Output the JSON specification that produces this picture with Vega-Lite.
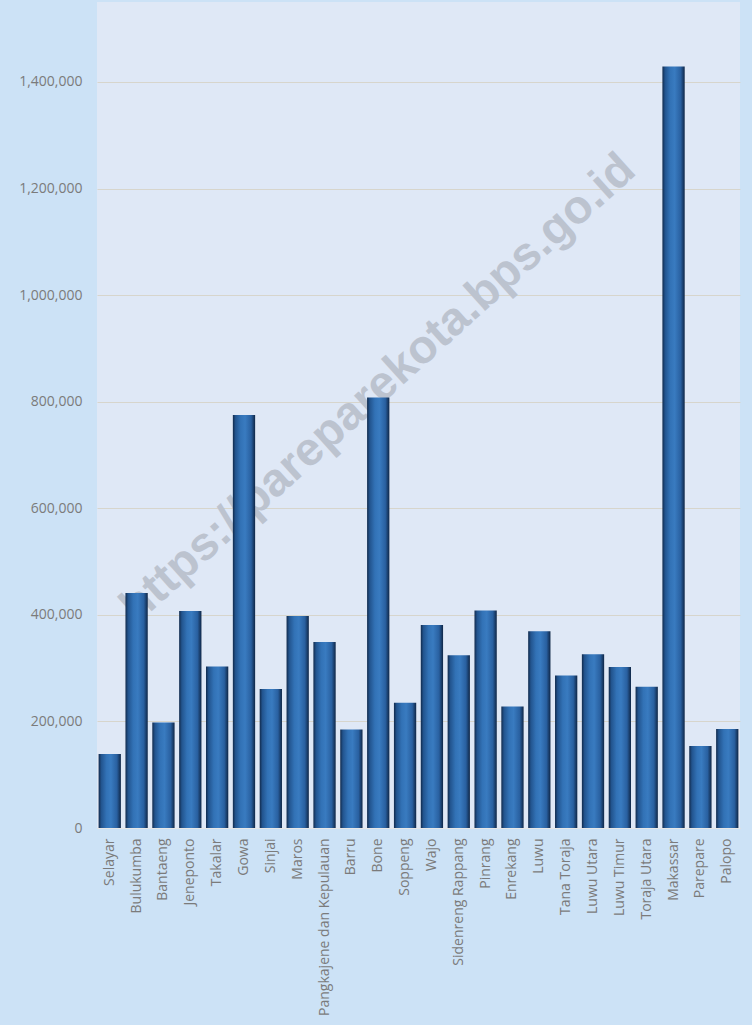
{
  "$schema": "https://vega.github.io/schema/vega-lite/v6.json",
  "width": 643,
  "height": 826,
  "autosize": {"type": "none"},
  "padding": {"left": 97, "top": 2, "right": 12, "bottom": 197},
  "background": "#cce2f6",
  "config": {"view": {"fill": "#dfe8f6", "stroke": null}, "font": "Open Sans"},
  "data": {
    "values": [
      {"region": "Selayar", "pop": 139000},
      {"region": "Bulukumba", "pop": 441000},
      {"region": "Bantaeng", "pop": 198000},
      {"region": "Jeneponto", "pop": 407000},
      {"region": "Takalar", "pop": 303000},
      {"region": "Gowa", "pop": 775000},
      {"region": "Sinjai", "pop": 261000},
      {"region": "Maros", "pop": 398000},
      {"region": "Pangkajene dan Kepulauan", "pop": 349000},
      {"region": "Barru", "pop": 185000},
      {"region": "Bone", "pop": 808000},
      {"region": "Soppeng", "pop": 235000},
      {"region": "Wajo", "pop": 381000},
      {"region": "Sidenreng Rappang", "pop": 324000},
      {"region": "Pinrang", "pop": 408000},
      {"region": "Enrekang", "pop": 228000},
      {"region": "Luwu", "pop": 369000},
      {"region": "Tana Toraja", "pop": 286000},
      {"region": "Luwu Utara", "pop": 326000},
      {"region": "Luwu Timur", "pop": 302000},
      {"region": "Toraja Utara", "pop": 265000},
      {"region": "Makassar", "pop": 1429000},
      {"region": "Parepare", "pop": 154000},
      {"region": "Palopo", "pop": 186000}
    ]
  },
  "encoding": {
    "x": {
      "field": "region",
      "type": "nominal",
      "scale": {
        "domain": ["Selayar", "Bulukumba", "Bantaeng", "Jeneponto", "Takalar", "Gowa", "Sinjai", "Maros", "Pangkajene dan Kepulauan", "Barru", "Bone", "Soppeng", "Wajo", "Sidenreng Rappang", "Pinrang", "Enrekang", "Luwu", "Tana Toraja", "Luwu Utara", "Luwu Timur", "Toraja Utara", "Makassar", "Parepare", "Palopo"],
        "paddingInner": 0.17,
        "paddingOuter": 0.06
      },
      "axis": {
        "title": null,
        "labelAngle": -90,
        "labelFontSize": 14,
        "labelColor": "#7b7b7b",
        "labelPadding": 10,
        "ticks": false,
        "domain": true,
        "domainColor": "#e6e6e6",
        "grid": false
      }
    },
    "y": {
      "field": "pop",
      "type": "quantitative",
      "scale": {"domain": [0, 1550000], "nice": false},
      "axis": {
        "title": null,
        "values": [0, 200000, 400000, 600000, 800000, 1000000, 1200000, 1400000],
        "format": ",d",
        "labelFontSize": 14,
        "labelColor": "#7b7b7b",
        "labelPadding": 15,
        "ticks": false,
        "domain": false,
        "grid": true,
        "gridColor": "#d7d5cc",
        "gridWidth": 1
      }
    }
  },
  "layer": [
    {
      "data": {"values": [{"region": "Bone", "pop": 825000, "label": "https://pareparekota.bps.go.id"}]},
      "mark": {
        "type": "text",
        "angle": 318,
        "font": "Liberation Sans",
        "fontWeight": "bold",
        "fontSize": 47,
        "color": "#bcc3cf",
        "align": "center",
        "baseline": "middle"
      },
      "encoding": {"text": {"field": "label"}}
    },
    {
      "mark": {
        "type": "bar",
        "color": {
          "gradient": "linear",
          "x1": 0, "x2": 1, "y1": 0, "y2": 0,
          "stops": [
            {"offset": 0, "color": "#112a4c"},
            {"offset": 0.12, "color": "#22548e"},
            {"offset": 0.35, "color": "#3272b6"},
            {"offset": 0.55, "color": "#397bc0"},
            {"offset": 0.82, "color": "#2960a0"},
            {"offset": 1, "color": "#0f2646"}
          ]
        }
      }
    }
  ]
}
